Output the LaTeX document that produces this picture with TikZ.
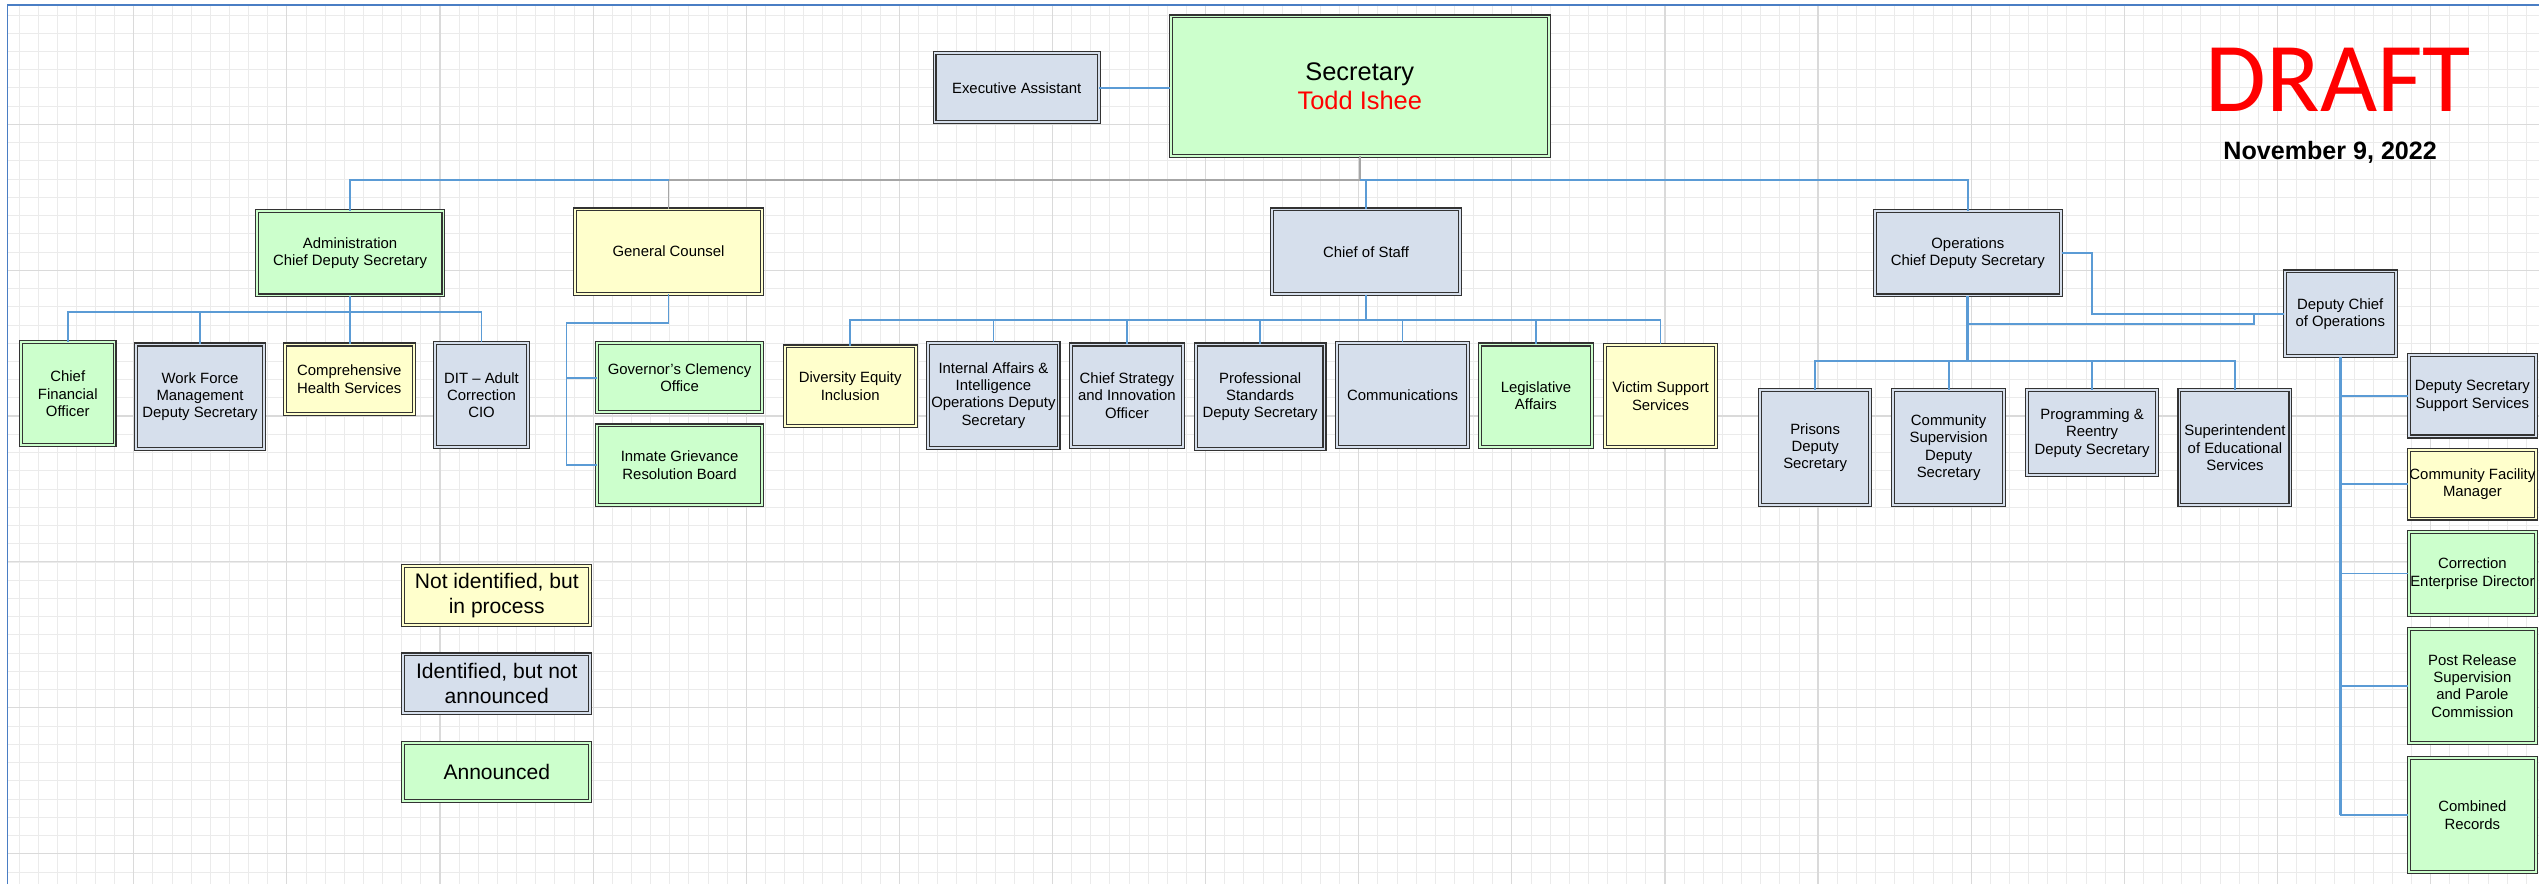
\documentclass[tikz,border=0pt]{standalone}
\usepackage{fontspec}
\setmainfont{Liberation Sans}
\newfontfamily\draftfont{Carlito}
\definecolor{cgreen}{HTML}{CCFFCC}
\definecolor{cyellow}{HTML}{FFFFCC}
\definecolor{cblue}{HTML}{D6DFEC}
\definecolor{cline}{HTML}{5B9BD5}
\definecolor{cgrayline}{HTML}{A6A6A6}
\definecolor{cframe}{HTML}{4A7EC4}
\definecolor{cborder}{HTML}{333333}
\definecolor{cgridminor}{HTML}{EBEBEB}
\definecolor{cgridmajor}{HTML}{DADADA}
\definecolor{cred}{HTML}{FF0000}
% #1 name, #2 style, #3 x1, #4 x2, #5 y1, #6 y2, #7 text
\newcommand\orgbox[7]{%
  \node[#2, minimum width={#4-#3-2.5}, minimum height={#6-#5-2.5}] (#1) at ({(#3+#4)/2},{(#5+#6)/2}) {#7};}
\tikzset{
  box/.style={draw=cborder, line width=0.7pt, double distance=1.1pt, align=center,
    inner sep=0.5pt, font=\fontsize{9.2}{10.7}\selectfont},
  gbox/.style={box, fill=cgreen, double=cgreen},
  ybox/.style={box, fill=cyellow, double=cyellow},
  bbox/.style={box, fill=cblue, double=cblue},
  legendtext/.style={font=\fontsize{13}{15.4}\selectfont},
  conn/.style={draw=cline, line width=1.1pt},
  trunk/.style={draw=cline, line width=1.7pt},
  grayconn/.style={draw=cgrayline, line width=1.1pt},
  gminor/.style={draw=cgridminor, line width=0.5pt},
  gmajor/.style={draw=cgridmajor, line width=0.7pt},
  framebord/.style={draw=cframe, line width=1pt}
}
\begin{document}
\begin{tikzpicture}[x=1pt,y=-1pt]
\fill[white] (0,0) rectangle (1568,546);
\useasboundingbox (0,0) rectangle (1568,546);
% grid
\begin{scope}
\clip (4.7,2.9) rectangle (1568,546);
\foreach \k in {-7,...,126} \draw[gminor] ({82.6+11.82*\k},0) -- ({82.6+11.82*\k},546);
\foreach \k in {-7,...,42} \draw[gminor] (0,{76.8+11.26*\k}) -- (1568,{76.8+11.26*\k});
\foreach \k in {-1,...,16} \draw[gmajor] ({82.6+94.56*\k},0) -- ({82.6+94.56*\k},546);
\foreach \k in {-1,...,6} \draw[gmajor] (0,{76.8+90.05*\k}) -- (1568,{76.8+90.05*\k});
\end{scope}
\draw[framebord] (4.7,546) -- (4.7,2.9) -- (1568,2.9);

% title texts
\node[anchor=base, text=cred, font=\draftfont\fontsize{61}{61}\selectfont, inner sep=0pt] (draft) at (1444,69) {DRAFT};
\node[anchor=base, font=\bfseries\fontsize{15.5}{15.5}\selectfont, inner sep=0pt] (date) at (1439,98.2) {November 9, 2022};

% top level
\orgbox{exec}{bbox}{575.9}{679.8}{31.5}{76.8}{Executive Assistant}
\orgbox{sec}{gbox, font=\fontsize{15.7}{17.5}\selectfont}{721.7}{957.8}{8.9}{97.5}{Secretary\\\textcolor{cred}{Todd Ishee}}

% second level
\orgbox{admin}{gbox}{157.3}{275.1}{129.1}{183.7}{Administration\\Chief Deputy Secretary}
\orgbox{gc}{ybox}{353.8}{471.9}{128.1}{182.6}{General Counsel}
\orgbox{cos}{bbox}{784.4}{902.8}{128.1}{182.8}{Chief of Staff}
\orgbox{ops}{bbox}{1156.5}{1274}{129.1}{183.7}{Operations\\Chief Deputy Secretary}
\orgbox{dchief}{bbox}{1409.7}{1480.8}{166.4}{221.3}{Deputy Chief\\of Operations}

% administration children
\orgbox{cfo}{gbox}{11.7}{72.0}{210}{276.3}{Chief\\Financial\\Officer}
\orgbox{wf}{bbox}{82.7}{164.3}{211.5}{278.4}{Work Force\\Management\\Deputy Secretary}
\orgbox{comp}{ybox}{174.7}{256.7}{211.5}{257}{Comprehensive\\Health Services}
\orgbox{dit}{bbox}{267.4}{327.3}{210.4}{277.5}{DIT -- Adult\\Correction\\CIO}

% general counsel children
\orgbox{gov}{gbox}{367.5}{471.9}{210.6}{255.9}{Governor’s Clemency\\Office}
\orgbox{inmate}{gbox}{367.5}{471.9}{261.5}{312.9}{Inmate Grievance\\Resolution Board}

% chief of staff children
\orgbox{div}{ybox}{483.4}{566.7}{212.7}{264.4}{Diversity Equity\\Inclusion}
\orgbox{ia}{bbox}{572}{655}{210.4}{277.8}{Internal Affairs \&\\Intelligence\\Operations Deputy\\Secretary}
\orgbox{cs}{bbox}{660.3}{731.6}{211.5}{277.1}{Chief Strategy\\and Innovation\\Officer}
\orgbox{ps}{bbox}{737.2}{819.2}{211.5}{278.4}{Professional\\Standards\\Deputy Secretary}
\orgbox{comm}{bbox}{824.5}{907.8}{210.4}{277.5}{Communications}
\orgbox{leg}{gbox}{912.7}{984.4}{211.5}{277.5}{Legislative\\Affairs}
\orgbox{vss}{ybox}{990}{1061}{211.7}{277.5}{Victim Support\\Services}

% operations children
\orgbox{pris}{bbox}{1085.6}{1156.3}{239.8}{313.2}{Prisons\\Deputy\\Secretary}
\orgbox{csup}{bbox}{1167.9}{1238.9}{239.8}{313.2}{Community\\Supervision\\Deputy\\Secretary}
\orgbox{prog}{bbox}{1250.5}{1333.5}{239.8}{294.8}{Programming \&\\Reentry\\Deputy Secretary}
\orgbox{sup}{bbox}{1344.7}{1415.7}{239.8}{313.2}{Superintendent\\of Educational\\Services}

% deputy chief children
\orgbox{dsss}{bbox}{1486.4}{1567.3}{218.2}{270.8}{Deputy Secretary\\Support Services}
\orgbox{cfm}{ybox}{1486.4}{1567.3}{276.6}{321.5}{Community Facility\\Manager}
\orgbox{ced}{gbox}{1486.4}{1567.3}{327.2}{381.2}{Correction\\Enterprise Director}
\orgbox{prs}{gbox}{1486.4}{1567.3}{387.2}{460.1}{Post Release\\Supervision\\and Parole\\Commission}
\orgbox{cr}{gbox}{1486.4}{1567.3}{467}{540}{Combined\\Records}

% legend
\orgbox{leg1}{ybox, legendtext}{247.8}{365.8}{348.5}{387.4}{Not identified, but\\in process}
\orgbox{leg2}{bbox, legendtext}{247.8}{365.8}{402.9}{441.8}{Identified, but not\\announced}
\orgbox{leg3}{gbox, legendtext}{247.8}{365.8}{457.4}{496.1}{Announced}

% connectors
\coordinate (topbus) at (0,111.2);
\draw[conn] (exec.east) -- (exec.east -| sec.west);
\draw[grayconn] (sec.south) -- (sec.south |- topbus) -| (gc.north);
\draw[conn] (gc.north |- topbus) -| (admin.north);
\draw[conn] (sec.south |- topbus) -| (ops.north);
\draw[conn] (cos.north |- topbus) -- (cos.north);

\coordinate (abus) at (0,192.9);
\draw[conn] (admin.south) -- (admin.south |- comp.north);
\draw[conn] (cfo.north) -- (cfo.north |- abus) -- (dit.north |- abus) -- (dit.north);
\draw[conn] (wf.north) -- (wf.north |- abus);

\coordinate (gcx) at (349.8,199.3);
\draw[conn] (gc.south) |- (gcx) |- (inmate.west);
\draw[conn] (gcx |- gov.west) -- (gov.west);

\coordinate (cbus) at (0,197.7);
\draw[trunk] (cos.south) -- (cos.south |- cbus);
\draw[conn] (div.north) -- (div.north |- cbus) -- (vss.north |- cbus) -- (vss.north);
\foreach \n in {ia,cs,ps,comm,leg} \draw[conn] (\n.north) -- (\n.north |- cbus);

\coordinate (obus) at (0,222.8);
\draw[trunk] (ops.south) -- (ops.south |- obus);
\draw[conn] (pris.north) -- (pris.north |- obus) -- (sup.north |- obus) -- (sup.north);
\foreach \n in {csup,prog} \draw[conn] (\n.north) -- (\n.north |- obus);

\coordinate (oj) at (1291.8,156.5);
\coordinate (oj2) at (1391.9,200.2);
\draw[conn] (ops.east) -| (oj |- dchief.west) -- (dchief.west);
\draw[conn] (ops.south |- oj2) -- (oj2) -- (oj2 |- dchief.west);

\draw[trunk] (dchief.south) -- (dchief.south |- cr.west);
\foreach \n in {dsss,cfm,ced,prs,cr} \draw[conn] (dchief.south |- \n.west) -- (\n.west);
\end{tikzpicture}
\end{document}
